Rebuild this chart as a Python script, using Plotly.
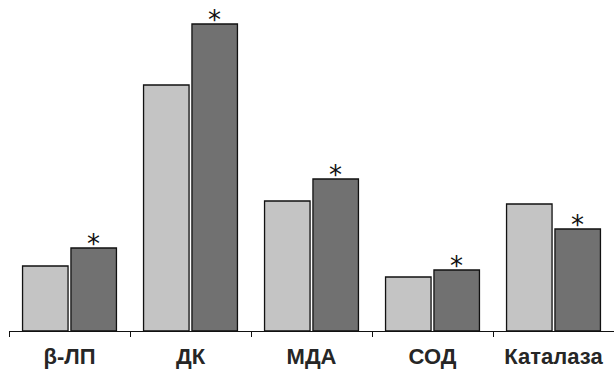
import plotly.graph_objects as go

categories = ["β-ЛП", "ДК", "МДА", "СОД", "Каталаза"]
control = [65, 246, 130, 54, 127]
treated = [83, 307, 152, 61, 102]
significant = [True, True, True, True, True]

LABEL_FONT = "Liberation Sans Narrow, Arial Narrow, Liberation Sans"

fig = go.Figure()
fig.add_trace(go.Bar(
    x=categories, y=control, name="control",
    marker=dict(color="#c6c6c6", line=dict(color="#111111", width=1.3),
                pattern=dict(shape=".", size=2, solidity=0.5,
                             fgcolor="#a0a0a0", bgcolor="#e0e0e0", fillmode="replace")),
))
fig.add_trace(go.Bar(
    x=categories, y=treated, name="treated",
    marker=dict(color="#6b6b6b", line=dict(color="#111111", width=1.3),
                pattern=dict(shape=".", size=2, solidity=0.5,
                             fgcolor="#4a4a4a", bgcolor="#909090", fillmode="replace")),
))

for i, (v, s) in enumerate(zip(treated, significant)):
    if s:
        fig.add_annotation(x=i, y=v, text="*", showarrow=False, xshift=24,
                           yanchor="bottom", yshift=-13,
                           font=dict(family="DejaVu Sans", size=26, color="#111111"))

fig.update_layout(
    width=614, height=369,
    margin=dict(l=9, r=0, t=0, b=38),
    paper_bgcolor="white", plot_bgcolor="white",
    barmode="group", bargap=0.2, bargroupgap=0.06,
    showlegend=False, hovermode=False,
    font=dict(family=LABEL_FONT, color="#222222"),
)
fig.update_xaxes(
    type="category", range=[-0.5, 4.5],
    showline=True, linecolor="#111111", linewidth=1.3,
    ticks="outside", tickson="boundaries", ticklen=5, tickcolor="#111111", tickwidth=1,
    tickfont=dict(size=22, family=LABEL_FONT, weight="bold", color="#262626"),
    ticklabelstandoff=5,
    showgrid=False, zeroline=False,
)
fig.update_yaxes(range=[0, 331], visible=False, showgrid=False)

fig.write_html("out.html", config={"displayModeBar": False, "staticPlot": True},
               post_script="document.body.style.margin='0';")
